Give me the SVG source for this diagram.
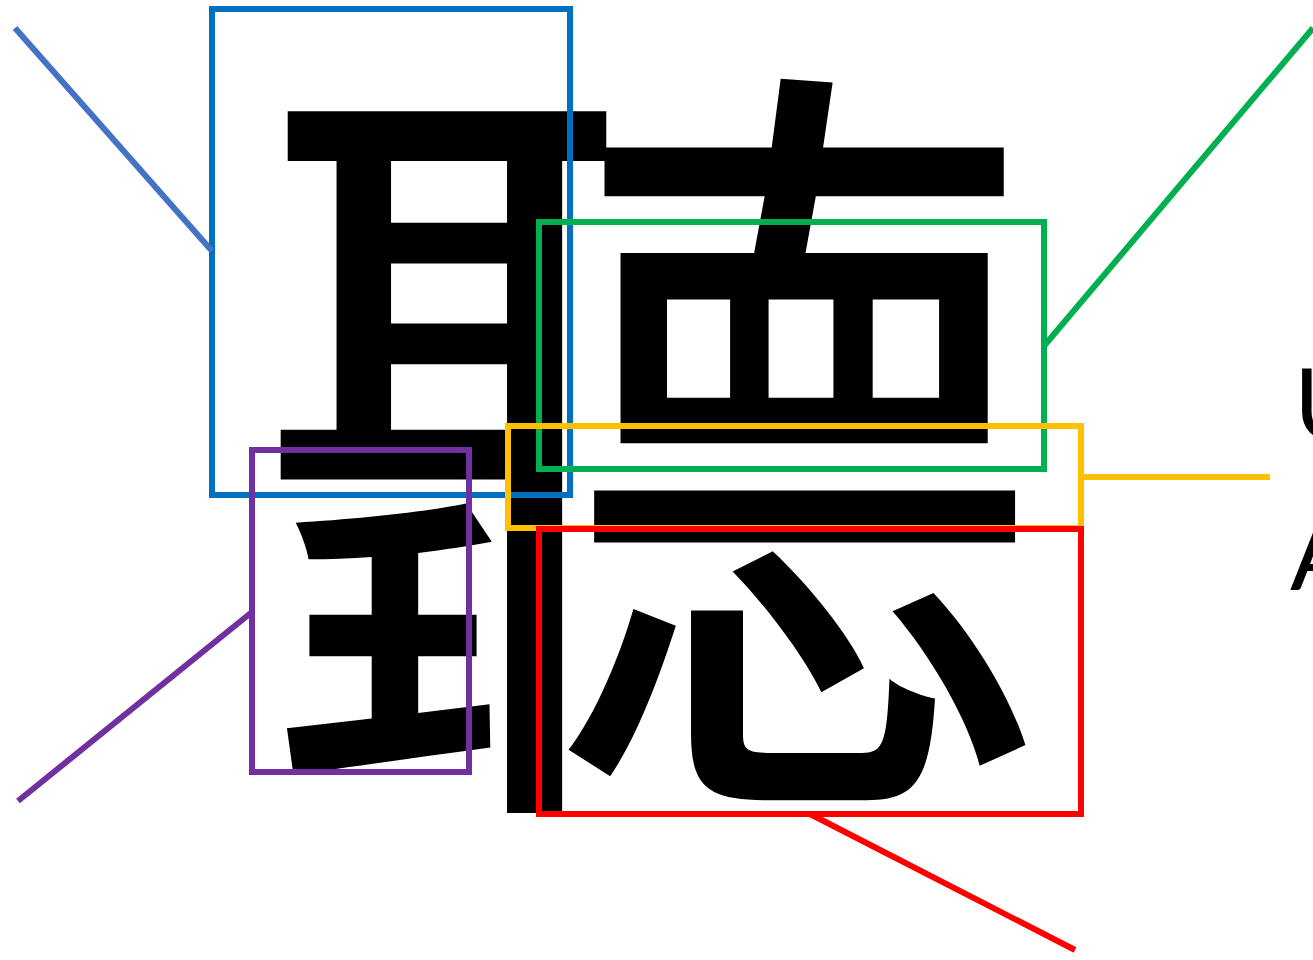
<svg xmlns="http://www.w3.org/2000/svg" width="1313" height="960" viewBox="0 0 1313 960">
<style>
.box{fill:none;stroke-width:6}
.ln{fill:none;stroke-width:6}
.lbl{font-family:Lato,"Liberation Sans",sans-serif;font-size:98px;fill:#000}
</style>
<rect width="1313" height="960" fill="#fff"/>
<g id="character">
<text x="651" y="749" text-anchor="middle" font-family="'Noto Sans CJK TC','Noto Sans CJK SC',sans-serif" font-weight="400" font-size="800" fill="#000">聽</text>
</g>
<g id="box-ear"><rect class="box" x="212" y="9" width="358" height="486" stroke="#0070C0"/></g>
<g id="box-net"><rect class="box" x="539" y="222" width="505" height="247" stroke="#00B050"/></g>
<g id="box-one"><rect class="box" x="508" y="426" width="573" height="102" stroke="#FFC000"/></g>
<g id="box-heart"><rect class="box" x="539" y="529" width="542" height="285" stroke="#FF0000"/></g>
<g id="box-king"><rect class="box" x="252" y="450" width="217" height="322" stroke="#7030A0"/></g>
<g id="label-u"><text class="lbl" x="1294" y="440">U</text></g>
<g id="label-a"><text class="lbl" x="1290" y="590">A</text></g>
<g id="connectors">
<line class="ln" x1="15" y1="28" x2="212" y2="251" stroke="#4472C4"/>
<line class="ln" x1="1044" y1="346" x2="1313" y2="28" stroke="#00B050"/>
<line class="ln" x1="1081" y1="477" x2="1270" y2="477" stroke="#FFC000"/>
<line class="ln" x1="810" y1="814" x2="1075" y2="950" stroke="#FF0000"/>
<line class="ln" x1="252" y1="612" x2="18" y2="801" stroke="#7030A0"/>
</g>
</svg>
